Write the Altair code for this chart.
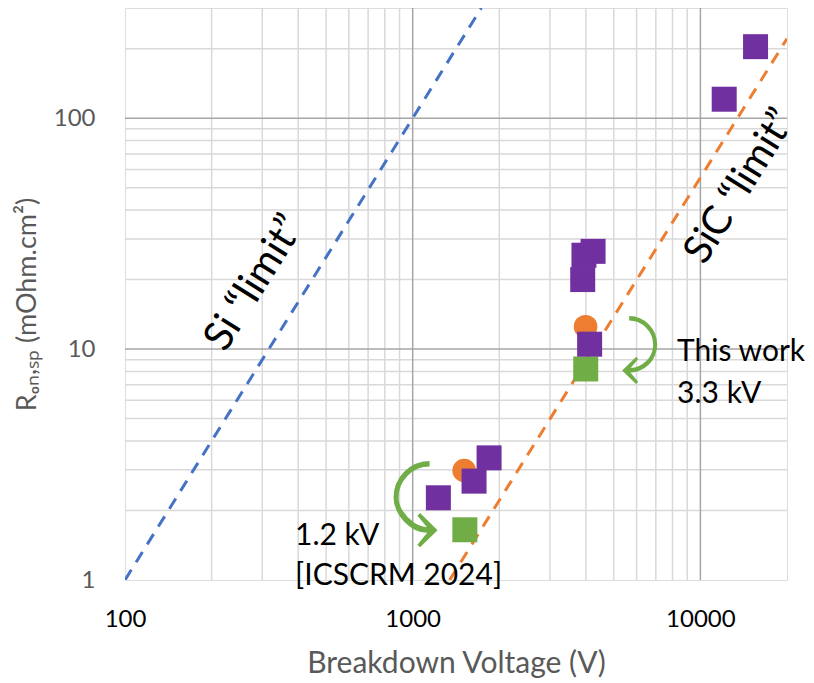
import altair as alt
import pandas as pd

# ---- data ----
purple_v = [1228, 1634, 1843, 3899, 3938, 4236, 4121, 12100, 15550]
purple_r = [2.27, 2.68, 3.38, 20.0, 25.5, 26.5, 10.5, 120.8, 204]
orange_v = [1510, 3990]
orange_r = [2.98, 12.5]
green_v = [1518, 3994]
green_r = [1.65, 8.2]

si_v = [100, 1732]
si_r = [1, 300]
sic_v = [1344, 20000]
sic_r = [1, 221]

x_major = [1000, 10000]
x_minor = [200, 300, 400, 500, 600, 700, 800, 900,
           2000, 3000, 4000, 5000, 6000, 7000, 8000, 9000]
y_major = [10, 100]
y_minor = [2, 3, 4, 5, 6, 7, 8, 9, 20, 30, 40, 50, 60, 70, 80, 90, 200]
x_ticks = [100, 1000, 10000]
y_ticks = [1, 10, 100]

FONT = "Lato"
GREEN = "#70AD47"

xs = alt.Scale(type="log", domain=[100, 20000], nice=False)
ys = alt.Scale(type="log", domain=[1, 300], nice=False)

x_axis = alt.Axis(values=x_ticks, format="d", grid=False, ticks=False, tickSize=0, domain=False,
                  labelFont=FONT, labelFontSize=24, labelColor="#000000",
                  labelPadding=39, labelBaseline="middle", labelFlush=False,
                  title="Breakdown Voltage (V)", titleFont=FONT, titleFontSize=30,
                  titleFontWeight="normal", titleColor="#595959",
                  titleY=83, titleBaseline="middle")
y_axis = alt.Axis(values=y_ticks, format="d", grid=False, ticks=False, tickSize=0, domain=False,
                  labelFont=FONT, labelFontSize=24, labelColor="#595959",
                  labelPadding=30, labelAlign="right", labelBaseline="middle", labelFlush=False,
                  title="Rₒₙ,ₛₚ (mOhm.cm²)", titleFont=FONT, titleFontSize=27,
                  titleFontWeight="normal", titleColor="#595959",
                  titleX=-98, titleY=296, titleAngle=270,
                  titleAlign="center", titleBaseline="middle")

X = alt.X("V:Q", scale=xs, axis=x_axis)
Y = alt.Y("R:Q", scale=ys, axis=y_axis)


def vrule(vals, color):
    return alt.Chart(pd.DataFrame({"V": vals})).mark_rule(color=color, strokeWidth=1.5).encode(x=X)


def hrule(vals, color):
    return alt.Chart(pd.DataFrame({"R": vals})).mark_rule(color=color, strokeWidth=1.5).encode(y=Y)


grid = [vrule(x_minor, "#D9D9D9"), hrule(y_minor, "#D9D9D9"),
        vrule(x_major, "#A6A6A6"), hrule(y_major, "#A6A6A6")]


def dline(v, r, color):
    return alt.Chart(pd.DataFrame({"V": v, "R": r})).mark_line(
        color=color, strokeWidth=3, strokeDash=[12, 9], clip=True).encode(x=X, y=Y)


si_line = dline(si_v, si_r, "#4472C4")
sic_line = dline(sic_v, sic_r, "#ED7D31")


def pts(v, r, shape, color):
    return alt.Chart(pd.DataFrame({"V": v, "R": r})).mark_point(
        shape=shape, filled=True, color=color, opacity=1,
        size=625 if shape == "square" else 560).encode(x=X, y=Y)


orange_pts = pts(orange_v, orange_r, "circle", "#ED7D31")
green_pts = pts(green_v, green_r, "square", GREEN)
purple_pts = pts(purple_v, purple_r, "square", "#7030A0")


# ---- annotations ----
def label(df, **kw):
    return alt.Chart(df).mark_text(font=FONT, color="#000000", **kw).encode(
        x=X, y=Y, text="t:N")


si_txt = label(pd.DataFrame({"V": [283], "R": [19.3], "t": ["Si “limit”"]}),
               angle=302, fontSize=41, align="center", baseline="middle")
sic_txt = label(pd.DataFrame({"V": [13750], "R": [50.6], "t": ["SiC “limit”"]}),
                angle=302, fontSize=40, align="center", baseline="middle")
notes = label(pd.DataFrame({"V": [8300, 8300, 390, 390],
                            "R": [8.9, 5.86, 1.416, 0.951],
                            "t": ["This work", "3.3 kV", "1.2 kV", "[ICSCRM 2024]"]}),
              fontSize=30, align="left", baseline="alphabetic")

arrows = alt.Chart(pd.DataFrame({"V": [6152, 1009], "R": [10.0, 2.15],
                                 "t": ["⤸", "⤹"], "s": [66, 84]})).mark_text(
    font="DejaVu Sans", color=GREEN, align="center", baseline="middle").encode(
    x=X, y=Y, text="t:N", size=alt.Size("s:Q", scale=None, legend=None))

chart = alt.layer(
    *grid, si_line, sic_line, orange_pts, green_pts, purple_pts,
    si_txt, sic_txt, notes, arrows
).properties(
    width=662, height=572,
    padding={"left": 117, "top": 0, "right": 19, "bottom": 100},
    autosize=alt.AutoSizeParams(type="none"),
).configure_view(stroke="#BFBFBF", strokeWidth=1.5).configure(background="white")

chart.save("out.html", embed_options={"renderer": "svg", "actions": False})
